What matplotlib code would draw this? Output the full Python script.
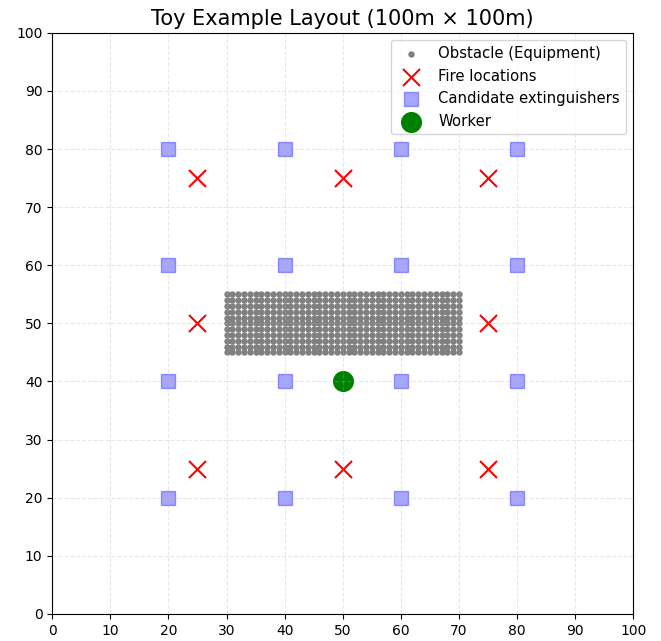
import matplotlib

matplotlib.use("Agg")
import matplotlib.pyplot as plt
import numpy as np

# Equipment block occupies a 1m grid between these bounds
obstacle_xs = list(range(30, 71))
obstacle_ys = list(range(45, 56))

fire_x = [25, 50, 75, 25, 75, 25, 50, 75]
fire_y = [75, 75, 75, 50, 50, 25, 25, 25]

cand_x = [20, 40, 60, 80] * 4
cand_y = [20] * 4 + [40] * 4 + [60] * 4 + [80] * 4

worker_x = [50]
worker_y = [40]

ox, oy = np.meshgrid(obstacle_xs, obstacle_ys)

fig, ax = plt.subplots(figsize=(6.61, 6.41), dpi=100)
ax.scatter(ox.ravel(), oy.ravel(), s=13, c="gray", label="Obstacle (Equipment)")
ax.scatter(fire_x, fire_y, s=150, c="red", marker="x", linewidths=1.5, label="Fire locations")
ax.scatter(cand_x, cand_y, s=100, c="blue", marker="s", alpha=0.35, label="Candidate extinguishers")
ax.scatter(worker_x, worker_y, s=200, c="green", label="Worker")

ax.set_xlim(0, 100)
ax.set_ylim(0, 100)
ax.set_xticks(range(0, 101, 10))
ax.set_yticks(range(0, 101, 10))
ax.set_aspect("equal")
ax.grid(True, linestyle="--", alpha=0.3)
ax.set_title("Toy Example Layout (100m × 100m)", fontsize=15)
ax.legend(loc="upper right", fontsize=10.7)

fig.subplots_adjust(left=0.079, right=0.958, bottom=0.041, top=0.95)
fig.savefig("out.png")
